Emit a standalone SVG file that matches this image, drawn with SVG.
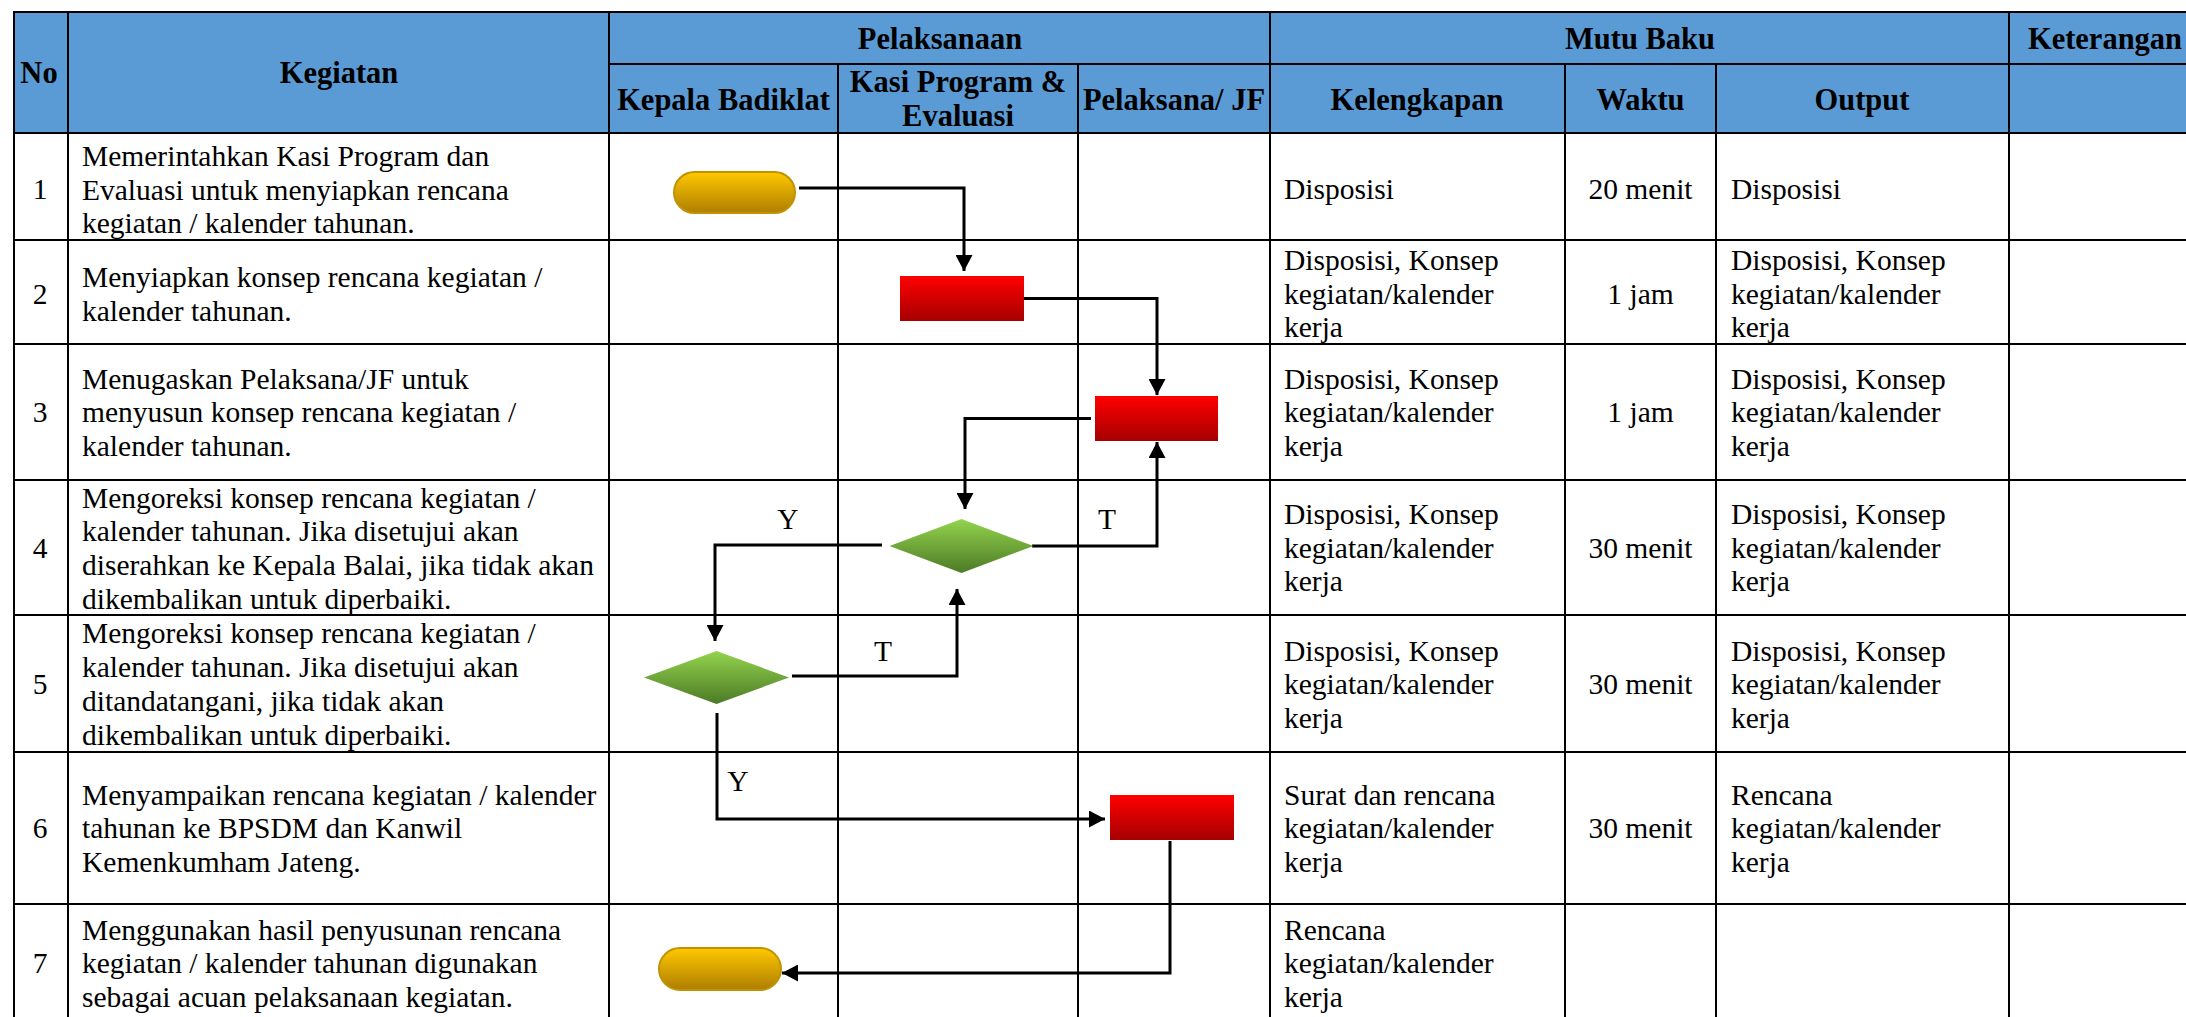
<svg xmlns="http://www.w3.org/2000/svg" width="2186" height="1017" viewBox="0 0 2186 1017">
<style>
.t{font-family:"Liberation Serif","Times New Roman",serif;font-size:29.5px;fill:#000}
.b{font-weight:bold;text-anchor:middle;font-size:30.5px}
.c{text-anchor:middle}
.grid line{stroke:#000;stroke-width:2}
.conn{fill:none;stroke:#000;stroke-width:3;marker-end:url(#arr)}
.term{fill:url(#gGold);stroke:#C29200;stroke-width:2}
.proc{fill:url(#gRed)}
.dec{fill:url(#gGreen)}
</style>
<defs>
<linearGradient id="gGold" x1="0" y1="0" x2="0" y2="1"><stop offset="0" stop-color="#FFC800"/><stop offset="1" stop-color="#AE7E00"/></linearGradient>
<linearGradient id="gRed" x1="0" y1="0" x2="0" y2="1"><stop offset="0" stop-color="#FF0000"/><stop offset="1" stop-color="#A50000"/></linearGradient>
<linearGradient id="gGreen" x1="0" y1="0" x2="0" y2="1"><stop offset="0" stop-color="#94D44E"/><stop offset="1" stop-color="#4C7A26"/></linearGradient>
<marker id="arr" markerUnits="userSpaceOnUse" markerWidth="17" markerHeight="17" refX="16" refY="8.5" orient="auto"><path d="M0,0 L16,8.5 L0,17 Z" fill="#000"/></marker>
</defs>
<rect width="2186" height="1017" fill="#fff"/>
<g id="table">
<rect x="14" y="12" width="2190" height="121" fill="#5B9BD5"/>
<g class="grid">
<line x1="13" y1="12" x2="2204" y2="12"/>
<line x1="609" y1="64" x2="2204" y2="64"/>
<line x1="13" y1="133" x2="2204" y2="133"/>
<line x1="13" y1="240" x2="2204" y2="240"/>
<line x1="13" y1="344" x2="2204" y2="344"/>
<line x1="13" y1="480" x2="2204" y2="480"/>
<line x1="13" y1="615" x2="2204" y2="615"/>
<line x1="13" y1="752" x2="2204" y2="752"/>
<line x1="13" y1="904" x2="2204" y2="904"/>
<line x1="14" y1="11" x2="14" y2="1017"/>
<line x1="68" y1="11" x2="68" y2="1017"/>
<line x1="609" y1="11" x2="609" y2="1017"/>
<line x1="838" y1="64" x2="838" y2="1017"/>
<line x1="1078" y1="64" x2="1078" y2="1017"/>
<line x1="1270" y1="11" x2="1270" y2="1017"/>
<line x1="1565" y1="64" x2="1565" y2="1017"/>
<line x1="1716" y1="64" x2="1716" y2="1017"/>
<line x1="2009" y1="11" x2="2009" y2="1017"/>
</g>
<g id="headers">
<text class="t b" x="39" y="83">No</text>
<text class="t b" x="339" y="83">Kegiatan</text>
<text class="t b" x="940" y="49">Pelaksanaan</text>
<text class="t b" x="1640" y="49">Mutu Baku</text>
<text class="t b" x="2105" y="49">Keterangan</text>
<text class="t b" x="723.5" y="110">Kepala Badiklat</text>
<text class="t b" x="958" y="92">Kasi Program &amp;</text>
<text class="t b" x="958" y="126">Evaluasi</text>
<text class="t b" x="1174" y="110">Pelaksana/ JF</text>
<text class="t b" x="1417" y="110">Kelengkapan</text>
<text class="t b" x="1640.5" y="110">Waktu</text>
<text class="t b" x="1862" y="110">Output</text>
</g>
<g id="row1">
<text class="t c" x="40" y="199">1</text>
<text class="t" x="82"><tspan x="82" y="166">Memerintahkan Kasi Program dan</tspan><tspan x="82" y="199.5">Evaluasi untuk menyiapkan rencana</tspan><tspan x="82" y="233">kegiatan / kalender tahunan.</tspan></text>
<text class="t" x="1284" y="199">Disposisi</text>
<text class="t c" x="1640.5" y="199">20 menit</text>
<text class="t" x="1731" y="199">Disposisi</text>
</g>
<g id="row2">
<text class="t c" x="40" y="303.5">2</text>
<text class="t" x="82"><tspan x="82" y="287">Menyiapkan konsep rencana kegiatan /</tspan><tspan x="82" y="320.5">kalender tahunan.</tspan></text>
<text class="t" x="1284"><tspan x="1284" y="270">Disposisi, Konsep</tspan><tspan x="1284" y="303.5">kegiatan/kalender</tspan><tspan x="1284" y="337">kerja</tspan></text>
<text class="t c" x="1640.5" y="303.5">1 jam</text>
<text class="t" x="1731"><tspan x="1731" y="270">Disposisi, Konsep</tspan><tspan x="1731" y="303.5">kegiatan/kalender</tspan><tspan x="1731" y="337">kerja</tspan></text>
</g>
<g id="row3">
<text class="t c" x="40" y="422">3</text>
<text class="t" x="82"><tspan x="82" y="388.5">Menugaskan Pelaksana/JF untuk</tspan><tspan x="82" y="422">menyusun konsep rencana kegiatan /</tspan><tspan x="82" y="455.5">kalender tahunan.</tspan></text>
<text class="t" x="1284"><tspan x="1284" y="388.5">Disposisi, Konsep</tspan><tspan x="1284" y="422">kegiatan/kalender</tspan><tspan x="1284" y="455.5">kerja</tspan></text>
<text class="t c" x="1640.5" y="422">1 jam</text>
<text class="t" x="1731"><tspan x="1731" y="388.5">Disposisi, Konsep</tspan><tspan x="1731" y="422">kegiatan/kalender</tspan><tspan x="1731" y="455.5">kerja</tspan></text>
</g>
<g id="row4">
<text class="t c" x="40" y="557.5">4</text>
<text class="t" x="82"><tspan x="82" y="507.5">Mengoreksi konsep rencana kegiatan /</tspan><tspan x="82" y="541">kalender tahunan. Jika disetujui akan</tspan><tspan x="82" y="575">diserahkan ke Kepala Balai, jika tidak akan</tspan><tspan x="82" y="608.5">dikembalikan untuk diperbaiki.</tspan></text>
<text class="t" x="1284"><tspan x="1284" y="524">Disposisi, Konsep</tspan><tspan x="1284" y="557.5">kegiatan/kalender</tspan><tspan x="1284" y="591">kerja</tspan></text>
<text class="t c" x="1640.5" y="557.5">30 menit</text>
<text class="t" x="1731"><tspan x="1731" y="524">Disposisi, Konsep</tspan><tspan x="1731" y="557.5">kegiatan/kalender</tspan><tspan x="1731" y="591">kerja</tspan></text>
</g>
<g id="row5">
<text class="t c" x="40" y="694">5</text>
<text class="t" x="82"><tspan x="82" y="642.5">Mengoreksi konsep rencana kegiatan /</tspan><tspan x="82" y="677">kalender tahunan. Jika disetujui akan</tspan><tspan x="82" y="711">ditandatangani, jika tidak akan</tspan><tspan x="82" y="745">dikembalikan untuk diperbaiki.</tspan></text>
<text class="t" x="1284"><tspan x="1284" y="660.5">Disposisi, Konsep</tspan><tspan x="1284" y="694">kegiatan/kalender</tspan><tspan x="1284" y="728">kerja</tspan></text>
<text class="t c" x="1640.5" y="694">30 menit</text>
<text class="t" x="1731"><tspan x="1731" y="660.5">Disposisi, Konsep</tspan><tspan x="1731" y="694">kegiatan/kalender</tspan><tspan x="1731" y="728">kerja</tspan></text>
</g>
<g id="row6">
<text class="t c" x="40" y="838">6</text>
<text class="t" x="82"><tspan x="82" y="804.5">Menyampaikan rencana kegiatan / kalender</tspan><tspan x="82" y="838">tahunan ke BPSDM dan Kanwil</tspan><tspan x="82" y="871.5">Kemenkumham Jateng.</tspan></text>
<text class="t" x="1284"><tspan x="1284" y="804.5">Surat dan rencana</tspan><tspan x="1284" y="838">kegiatan/kalender</tspan><tspan x="1284" y="871.5">kerja</tspan></text>
<text class="t c" x="1640.5" y="838">30 menit</text>
<text class="t" x="1731"><tspan x="1731" y="804.5">Rencana</tspan><tspan x="1731" y="838">kegiatan/kalender</tspan><tspan x="1731" y="871.5">kerja</tspan></text>
</g>
<g id="row7">
<text class="t c" x="40" y="973">7</text>
<text class="t" x="82"><tspan x="82" y="939.5">Menggunakan hasil penyusunan rencana</tspan><tspan x="82" y="973">kegiatan / kalender tahunan digunakan</tspan><tspan x="82" y="1006.5">sebagai acuan pelaksanaan kegiatan.</tspan></text>
<text class="t" x="1284"><tspan x="1284" y="939.5">Rencana</tspan><tspan x="1284" y="973">kegiatan/kalender</tspan><tspan x="1284" y="1006.5">kerja</tspan></text>
</g>
</g>
<g id="connectors">
<path class="conn" d="M799,188 H964 V271"/>
<path class="conn" d="M1024,298.5 H1157 V395"/>
<path class="conn" d="M1091,418.5 H965 V509"/>
<path class="conn" d="M1032,546 H1157 V442"/>
<path class="conn" d="M882,545 H715 V641"/>
<path class="conn" d="M792,676 H957 V589"/>
<path class="conn" d="M717,713 V819 H1105"/>
<path class="conn" d="M1170,841 V973 H782"/>
<text class="t c" x="788" y="529">Y</text>
<text class="t c" x="1107" y="529">T</text>
<text class="t c" x="883" y="661">T</text>
<text class="t c" x="738" y="791">Y</text>
</g>
<g id="n1"><rect class="term" x="674" y="172" width="121" height="41" rx="20.5"/></g>
<g id="n2"><rect class="proc" x="900" y="276" width="124" height="45"/></g>
<g id="n3"><rect class="proc" x="1095" y="396" width="123" height="45"/></g>
<g id="n4"><polygon class="dec" points="961.5,519 1033.5,546 961.5,573 889.5,546"/></g>
<g id="n5"><polygon class="dec" points="716.5,651 789,677.5 716.5,704 644,677.5"/></g>
<g id="n6"><rect class="proc" x="1110" y="795" width="124" height="45"/></g>
<g id="n7"><rect class="term" x="659" y="948" width="122" height="42" rx="21"/></g>
</svg>
